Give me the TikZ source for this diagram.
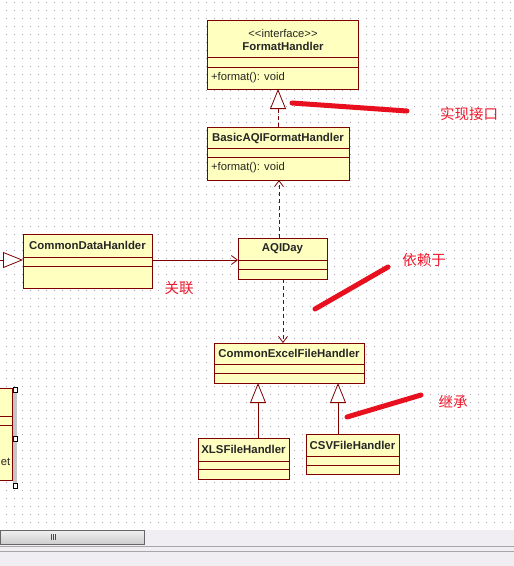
\documentclass[tikz,border=0pt]{standalone}
\usepackage{fontspec}
\setmainfont{Liberation Sans}
\newfontfamily\cjk{Noto Sans CJK SC}
\usetikzlibrary{arrows.meta}
\definecolor{umlborder}{RGB}{128,0,0}
\definecolor{umlfill}{RGB}{255,255,192}
\definecolor{markred}{RGB}{232,16,30}
\definecolor{labelred}{RGB}{238,24,44}
\definecolor{dotc}{RGB}{170,162,178}
\definecolor{barbg}{RGB}{240,238,242}
\begin{document}
\begin{tikzpicture}[x=1pt,y=-1pt,
  cls/.style={draw=umlborder, fill=umlfill, line width=1pt, inner sep=0pt, anchor=north west},
  cname/.style={font=\bfseries\fontsize{11.4}{13}\selectfont, text=black!85, inner sep=0pt},
  ctext/.style={font=\fontsize{11.2}{13}\selectfont, text=black!85, inner sep=0pt},
  comp/.style={draw=umlborder, line width=1pt},
  conn/.style={draw=umlborder, line width=0.8pt},
  dashconn/.style={conn, dash pattern=on 4pt off 3pt},
  barb/.style={-{Straight Barb[length=6pt,width=9pt,line width=0.8pt]}},
  tri/.style={-{Triangle[open,length=20pt,width=16pt,fill=white,line width=0.8pt]}},
  markstroke/.style={draw=markred, line width=5pt, line cap=round},
  note/.style={font=\cjk\fontsize{14.5}{16}\selectfont, text=labelred, inner sep=0pt}
]
\useasboundingbox (0,0) rectangle (514,566);
\clip (0,0) rectangle (514,566);
\fill[white] (0,0) rectangle (514,566);
% grid dots
\foreach \i in {0,...,63}{
  \foreach \j in {0,...,65}{
    \fill[dotc] (6+8*\i,2+8*\j) rectangle ++(1,1);
  }
}
% FormatHandler
\node[cls, minimum width=151, minimum height=69] (fh) at (207,20) {};
\node[ctext] (fhst) at (283,33) {{<}{<}interface{>}{>}};
\node[cname] (fhn) at (283,46) {FormatHandler};
\draw[comp] (fh.west |- 0,57) -- (fh.east |- 0,57);
\draw[comp] (fh.west |- 0,67) -- (fh.east |- 0,67);
\node[ctext, anchor=west] (fhm) at (211,78) {+format(): void};
% BasicAQIFormatHandler
\node[cls, minimum width=142, minimum height=53] (basic) at (207,127) {};
\node[cname] (basicn) at (278,138) {BasicAQIFormatHandler};
\draw[comp] (basic.west |- 0,148) -- (basic.east |- 0,148);
\draw[comp] (basic.west |- 0,157) -- (basic.east |- 0,157);
\node[ctext, anchor=west] (basicm) at (211,168) {+format(): void};
% AQIDay
\node[cls, minimum width=89, minimum height=41] (aqi) at (238,238) {};
\node[cname] (aqin) at (282.5,249) {AQIDay};
\draw[comp] (aqi.west |- 0,260) -- (aqi.east |- 0,260);
\draw[comp] (aqi.west |- 0,269) -- (aqi.east |- 0,269);
% CommonDataHanlder
\node[cls, minimum width=129, minimum height=54] (cdh) at (23,234) {};
\node[cname] (cdhn) at (87.5,245) {CommonDataHanlder};
\draw[comp] (cdh.west |- 0,257) -- (cdh.east |- 0,257);
\draw[comp] (cdh.west |- 0,266) -- (cdh.east |- 0,266);
% CommonExcelFileHandler
\node[cls, minimum width=150, minimum height=40] (excel) at (214,343) {};
\node[cname] (exceln) at (289,353) {CommonExcelFileHandler};
\draw[comp] (excel.west |- 0,364) -- (excel.east |- 0,364);
\draw[comp] (excel.west |- 0,373) -- (excel.east |- 0,373);
% XLSFileHandler
\node[cls, minimum width=91, minimum height=41] (xls) at (198,438) {};
\node[cname] (xlsn) at (243.5,449) {XLSFileHandler};
\draw[comp] (xls.west |- 0,461) -- (xls.east |- 0,461);
\draw[comp] (xls.west |- 0,469) -- (xls.east |- 0,469);
% CSVFileHandler
\node[cls, minimum width=93, minimum height=40] (csv) at (306,434) {};
\node[cname] (csvn) at (352.5,445) {CSVFileHandler};
\draw[comp] (csv.west |- 0,456) -- (csv.east |- 0,456);
\draw[comp] (csv.west |- 0,465) -- (csv.east |- 0,465);
% partial box on the left
\node[cls, minimum width=62, minimum height=92] (part) at (-50,388) {};
\draw[comp] (part.west |- 0,416) -- (part.east |- 0,416);
\draw[comp] (part.west |- 0,425) -- (part.east |- 0,425);
\node[ctext, anchor=east] (partt) at (10.5,462) {et};
\fill[gray!45] (13,390) rectangle (17,486);
\foreach \yy/\nm in {390/h1,439/h2,486/h3}{
  \node[draw=black, fill=white, line width=0.8pt, minimum size=4.5pt, inner sep=0pt] (\nm) at (15.5,\yy) {};
}
% connectors
\coordinate (fhtip) at (278,89);
\coordinate (basictop) at (278,127);
\draw[dashconn, tri] (basictop) -- (fhtip);
\coordinate (aqitop) at (279,238);
\coordinate (basicbot) at (279,180);
\draw[dashconn, barb] (aqitop) -- (basicbot);
\coordinate (aqibot) at (283,279);
\coordinate (exceltop) at (283,343);
\draw[dashconn, barb] (aqibot) -- (exceltop);
\draw[conn, barb] (cdh.east |- 0,260) -- (aqi.west |- 0,260);
\coordinate (offleft) at (-30,260);
\draw[conn, tri] (offleft) -- (cdh.west |- 0,260);
\coordinate (xlstop) at (258,438);
\coordinate (excelbl) at (258,383);
\draw[conn, tri] (xlstop) -- (excelbl);
\coordinate (csvtop) at (338,434);
\coordinate (excelbr) at (338,383);
\draw[conn, tri] (csvtop) -- (excelbr);
% annotations
\draw[markstroke] (292,103) -- (407,111);
\node[note] (n1) at (469,114) {实现接口};
\draw[markstroke] (315,309) -- (388,267);
\node[note] (n2) at (424,260) {依赖于};
\draw[markstroke] (347,417) -- (421,395);
\node[note] (n3) at (453,402) {继承};
\node[note] (n4) at (179,288) {关联};
% bottom scrollbar area
\fill[barbg] (0,530) rectangle (514,566);
\draw[gray!70, line width=0.8pt] (0,546) -- (514,546);
\draw[gray!70, line width=0.8pt] (0,551) -- (514,551);
\node[draw=gray!80!black, top color=gray!12, bottom color=gray!40, line width=0.8pt, minimum width=144, minimum height=14, inner sep=0pt, anchor=north west] (thumb) at (0,530) {};
\foreach \xx in {51,53,55}{
  \draw[black!70, line width=0.8pt] (\xx,534) -- (\xx,540);
}
\end{tikzpicture}
\end{document}
